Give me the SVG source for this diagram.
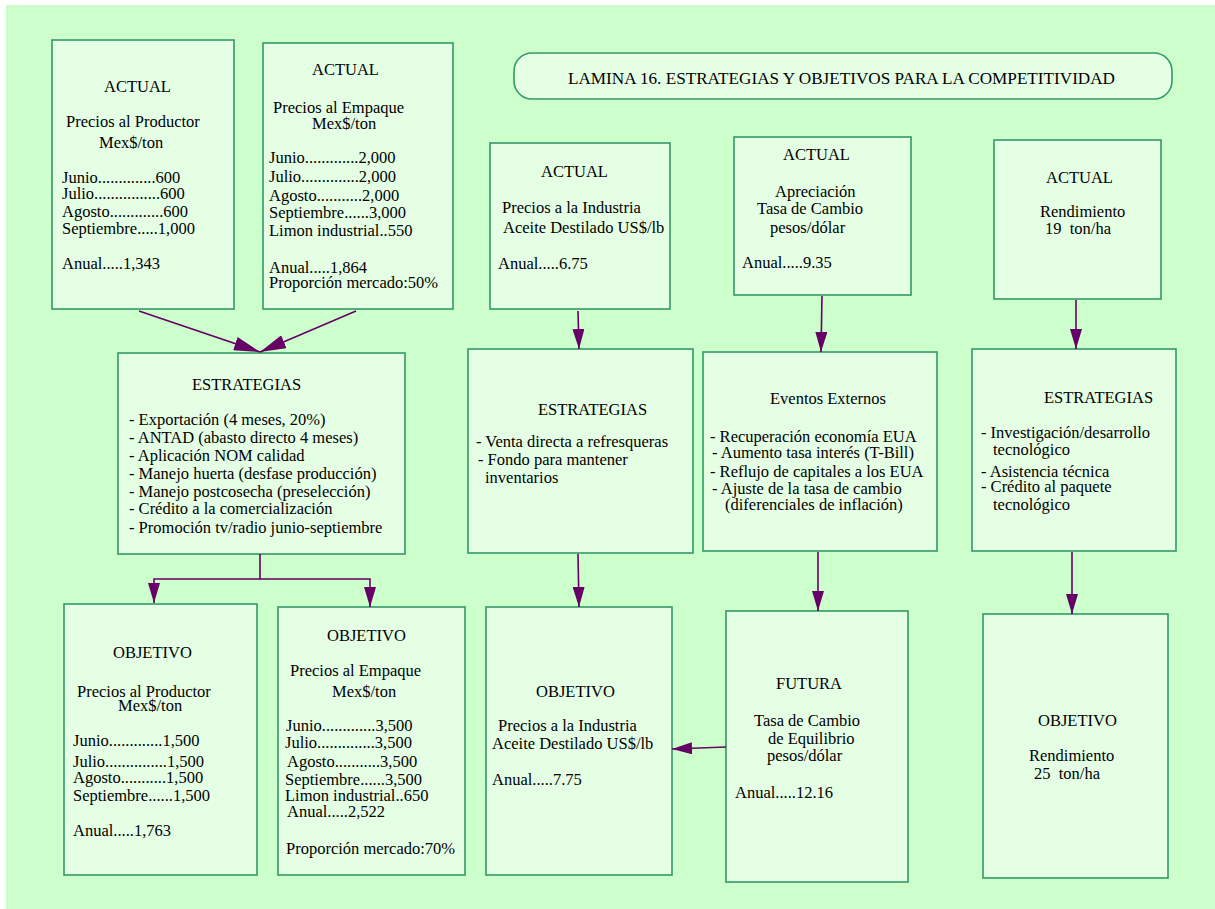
<svg xmlns="http://www.w3.org/2000/svg" width="1215" height="909" viewBox="0 0 1215 909">
<style>
.bg{fill:#CCFFCC}
.box{fill:#E5FFE5;stroke:#339966;stroke-width:1.6}
text{font-family:"Liberation Serif","Times New Roman",serif;font-size:16.5px;fill:#000}
.title{font-size:16.5px}
.pre{white-space:pre}
.cn{stroke:#660066;stroke-width:1.6;fill:none}
</style>
<defs>
<marker id="ah" markerUnits="userSpaceOnUse" markerWidth="20" markerHeight="12" refX="20" refY="6" orient="auto">
<path d="M0,0 L20,6 L0,12 z" fill="#660066"/>
</marker>
<marker id="ahL" markerUnits="userSpaceOnUse" markerWidth="26" markerHeight="14" refX="26" refY="7" orient="auto">
<path d="M0,0 L26,7 L0,14 z" fill="#660066"/>
</marker>
</defs>
<rect class="bg" x="6" y="5" width="1209" height="904"/>

<g id="title">
<rect class="box" x="514" y="53" width="658" height="46" rx="18" ry="18"/>
<text class="title" x="568" y="84" textLength="547" lengthAdjust="spacingAndGlyphs">LAMINA 16. ESTRATEGIAS Y OBJETIVOS PARA LA COMPETITIVIDAD</text>
</g>

<g id="actual-productor">
<rect class="box" x="52" y="40" width="182" height="269"/>
<text x="104" y="92">ACTUAL</text>
<text x="66" y="127">Precios al Productor</text>
<text x="99" y="148">Mex$/ton</text>
<text x="62" y="183">Junio..............600</text>
<text x="62" y="199">Julio................600</text>
<text x="62" y="217">Agosto.............600</text>
<text x="62" y="234">Septiembre.....1,000</text>
<text x="62" y="269">Anual.....1,343</text>
</g>

<g id="actual-empaque">
<rect class="box" x="263" y="43" width="190" height="266"/>
<text x="312" y="75">ACTUAL</text>
<text x="273" y="113">Precios al Empaque</text>
<text x="312" y="129">Mex$/ton</text>
<text x="269" y="163">Junio.............2,000</text>
<text x="269" y="182">Julio..............2,000</text>
<text x="269" y="201">Agosto...........2,000</text>
<text x="269" y="218">Septiembre......3,000</text>
<text x="269" y="236">Limon industrial..550</text>
<text x="269" y="273">Anual.....1,864</text>
<text x="269" y="288">Proporción mercado:50%</text>
</g>

<g id="actual-industria">
<rect class="box" x="490" y="143" width="180" height="166"/>
<text x="541" y="177">ACTUAL</text>
<text x="502" y="213">Precios a la Industria</text>
<text x="503" y="233">Aceite Destilado US$/lb</text>
<text x="498" y="269">Anual.....6.75</text>
</g>

<g id="actual-cambio">
<rect class="box" x="734" y="137" width="177" height="158"/>
<text x="783" y="160">ACTUAL</text>
<text x="775" y="197">Apreciación</text>
<text x="757" y="214">Tasa de Cambio</text>
<text x="770" y="233">pesos/dólar</text>
<text x="742" y="268">Anual.....9.35</text>
</g>

<g id="actual-rendimiento">
<rect class="box" x="994" y="140" width="167" height="159"/>
<text x="1046" y="183">ACTUAL</text>
<text x="1040" y="217">Rendimiento</text>
<text class="pre" x="1045" y="234" xml:space="preserve">19  ton/ha</text>
</g>

<g id="estrategias-1">
<rect class="box" x="118" y="353" width="287" height="201"/>
<text x="192" y="390">ESTRATEGIAS</text>
<text x="129" y="425">- Exportación (4 meses, 20%)</text>
<text x="129" y="443">- ANTAD (abasto directo 4 meses)</text>
<text x="129" y="461">- Aplicación NOM calidad</text>
<text x="129" y="479">- Manejo huerta (desfase producción)</text>
<text x="129" y="497">- Manejo postcosecha (preselección)</text>
<text x="129" y="514">- Crédito a la comercialización</text>
<text x="129" y="533">- Promoción tv/radio junio-septiembre</text>
</g>

<g id="estrategias-2">
<rect class="box" x="468" y="349" width="225" height="204"/>
<text x="538" y="415">ESTRATEGIAS</text>
<text x="476" y="447">- Venta directa a refresqueras</text>
<text x="478" y="465">- Fondo para mantener</text>
<text x="485" y="483">inventarios</text>
</g>

<g id="eventos-externos">
<rect class="box" x="703" y="352" width="234" height="199"/>
<text x="770" y="404">Eventos Externos</text>
<text x="710" y="442">- Recuperación economía EUA</text>
<text x="712" y="458">- Aumento tasa interés (T-Bill)</text>
<text x="710" y="477">- Reflujo de capitales a los EUA</text>
<text x="712" y="494">- Ajuste de la tasa de cambio</text>
<text x="725" y="510">(diferenciales de inflación)</text>
</g>

<g id="estrategias-3">
<rect class="box" x="972" y="349" width="204" height="202"/>
<text x="1044" y="403">ESTRATEGIAS</text>
<text x="981" y="438">- Investigación/desarrollo</text>
<text x="993" y="455">tecnológico</text>
<text x="981" y="477">- Asistencia técnica</text>
<text x="981" y="492">- Crédito al paquete</text>
<text x="993" y="510">tecnológico</text>
</g>

<g id="objetivo-productor">
<rect class="box" x="64" y="604" width="193" height="271"/>
<text x="113" y="658">OBJETIVO</text>
<text x="77" y="697">Precios al Productor</text>
<text x="118" y="711">Mex$/ton</text>
<text x="73" y="746">Junio.............1,500</text>
<text x="73" y="767">Julio...............1,500</text>
<text x="73" y="783">Agosto...........1,500</text>
<text x="73" y="801">Septiembre......1,500</text>
<text x="73" y="836">Anual.....1,763</text>
</g>

<g id="objetivo-empaque">
<rect class="box" x="278" y="607" width="187" height="268"/>
<text x="327" y="641">OBJETIVO</text>
<text x="290" y="676">Precios al Empaque</text>
<text x="332" y="697">Mex$/ton</text>
<text x="286" y="731">Junio.............3,500</text>
<text x="285" y="748">Julio..............3,500</text>
<text x="287" y="767">Agosto...........3,500</text>
<text x="285" y="785">Septiembre......3,500</text>
<text x="285" y="801">Limon industrial..650</text>
<text x="287" y="817">Anual.....2,522</text>
<text x="286" y="854">Proporción mercado:70%</text>
</g>

<g id="objetivo-industria">
<rect class="box" x="486" y="607" width="186" height="268"/>
<text x="536" y="697">OBJETIVO</text>
<text x="498" y="731">Precios a la Industria</text>
<text x="492" y="749">Aceite Destilado US$/lb</text>
<text x="492" y="785">Anual.....7.75</text>
</g>

<g id="futura">
<rect class="box" x="726" y="611" width="182" height="271"/>
<text x="776" y="689">FUTURA</text>
<text x="754" y="726">Tasa de Cambio</text>
<text x="768" y="744">de Equilibrio</text>
<text x="767" y="761">pesos/dólar</text>
<text x="735" y="798">Anual.....12.16</text>
</g>

<g id="objetivo-rendimiento">
<rect class="box" x="983" y="614" width="185" height="264"/>
<text x="1038" y="726">OBJETIVO</text>
<text x="1029" y="761">Rendimiento</text>
<text class="pre" x="1034" y="779" xml:space="preserve">25  ton/ha</text>
</g>

<g id="connectors">
<path class="cn" d="M139,311 L260,352" marker-end="url(#ahL)"/>
<path class="cn" d="M356,311 L260,352" marker-end="url(#ahL)"/>
<path class="cn" d="M260,554 V579 H154 V603" marker-end="url(#ah)"/>
<path class="cn" d="M260,579 H370 V607" marker-end="url(#ah)"/>
<path class="cn" d="M578,311 L579,349" marker-end="url(#ah)"/>
<path class="cn" d="M578,554 L579,607" marker-end="url(#ah)"/>
<path class="cn" d="M822,296 L821,352" marker-end="url(#ah)"/>
<path class="cn" d="M818,552 L818,611" marker-end="url(#ah)"/>
<path class="cn" d="M1076,300 L1076,349" marker-end="url(#ah)"/>
<path class="cn" d="M1072,552 L1072,614" marker-end="url(#ah)"/>
<path class="cn" d="M726,747 L672,749" marker-end="url(#ah)"/>
</g>
</svg>
